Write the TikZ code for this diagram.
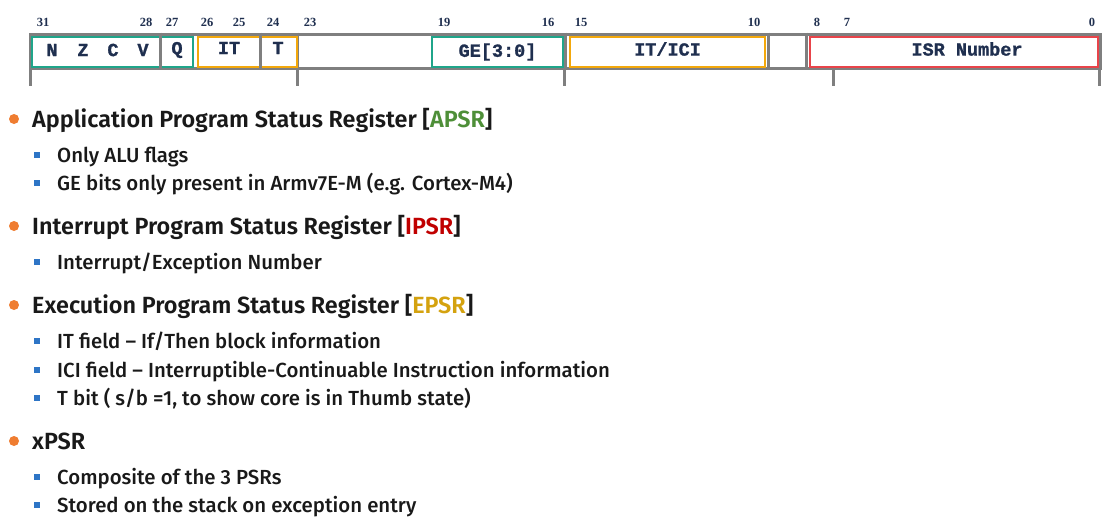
\documentclass[tikz,border=0pt]{standalone}
\usepackage{fontspec}
\setmainfont{Fira Sans}[UprightFont=* Medium]
\newfontfamily\headfont{Fira Sans}[UprightFont=* SemiBold]
\newfontfamily\regfont{Liberation Mono}[FakeBold=1.2]
\newfontfamily\bitfont{Liberation Serif}
\usepackage{tikz}
\usetikzlibrary{positioning,calc}
\definecolor{barGrey}{HTML}{7F7F7F}
\definecolor{regNavy}{HTML}{1F2F4F}
\definecolor{tealFrame}{HTML}{1FA58A}
\definecolor{amberFrame}{HTML}{F3A80C}
\definecolor{redFrame}{HTML}{E8444A}
\definecolor{apsrGreen}{HTML}{4E8F38}
\definecolor{ipsrRed}{HTML}{C00000}
\definecolor{epsrGold}{HTML}{D4A20F}
\definecolor{dotOrange}{HTML}{EF7D31}
\definecolor{sqBlue}{HTML}{2E75C6}

\begin{document}
\begin{tikzpicture}[x=1pt,y=-1pt,
  bar/.style={draw=barGrey,line width=3pt},
  divider/.style={draw=barGrey,line width=3pt},
  frame/.style={draw,fill=white,line width=2.4pt,minimum height=30pt,inner sep=0},
  regtxt/.style={font=\regfont\bfseries\fontsize{18.5}{20}\selectfont,text=regNavy,inner sep=0},
  bitnum/.style={font=\bitfont\bfseries\fontsize{12.5}{13}\selectfont,text=regNavy,inner sep=0},
  head/.style={anchor=base west,inner sep=0,text=black!90,font=\headfont\fontsize{23.4}{26}\selectfont},
  item/.style={anchor=base west,inner sep=0,text=black!90,font=\fontsize{20.4}{22}\selectfont},
  dot/.style={circle,fill=dotOrange,minimum size=10pt,inner sep=0},
  sq/.style={fill=sqBlue,minimum size=6pt,inner sep=0}]

  \useasboundingbox (0,0) rectangle (1110,517);

  % ==========================================
  % xPSR REGISTER BAR
  % ==========================================
  \node[bar,minimum width=1070pt,minimum height=34pt,inner sep=0] (psr) at (565,51) {};
  \foreach \x in {160,260,297,565,768,806}
    \draw[divider] (psr.north -| \x,0) -- (psr.south -| \x,0);
  % byte ticks below the bar
  \foreach \x in {30,297,564,833,1099}
    \draw[divider] (psr.south -| \x,0) -- ++(0,16);

  % coloured field frames
  \node[frame,draw=tealFrame,minimum width=161pt] (apsrF) at (112.5,52) {};
  \node[frame,draw=amberFrame,minimum width=99pt] (itF) at (247.5,52) {};
  \node[frame,draw=tealFrame,minimum width=131pt] (geF) at (497.5,52) {};
  \node[frame,draw=amberFrame,minimum width=195pt] (iciF) at (667.5,52) {};
  \node[frame,draw=redFrame,minimum width=288pt] (isrF) at (954,52) {};
  \node[frame,draw=none,minimum width=33pt,minimum height=31pt] (gapF) at (786.5,51) {};
  % inner dividers
  \draw[divider] (apsrF.north -| 160,0) -- (apsrF.south -| 160,0);
  \draw[divider] (itF.north -| 260,0) -- (itF.south -| 260,0);

  % field names
  \foreach \l/\x in {N/52,Z/83,C/113,V/143}
    \node[regtxt] (flag\l) at (\x,50) {\l};
  \node[regtxt] (q) at (177,50) {Q};
  \node[regtxt] (it) at (229,48) {IT};
  \node[regtxt] (t) at (278,48) {T};
  \node[regtxt] (ge) at (geF) {GE[3:0]};
  \node[regtxt] (itici) at ([yshift=3pt]iciF) {IT/ICI};
  \node[regtxt] (isr) at ([xshift=13pt,yshift=3pt]isrF) {ISR Number};

  % bit numbers
  \foreach \n/\x in {31/43,28/146,27/172,26/207,25/239,24/273,23/310,19/444,16/548,15/581,10/754,8/817,7/847,0/1092}
    \node[bitnum] (bit\n) at (\x,22) {\n};

  % ==========================================
  % DESCRIPTION LIST
  % ==========================================
  \node[head] (apsr) at (32,127) {Application Program Status Register [\textcolor{apsrGreen}{APSR}]};
  \node[item] (apsr1) at (57,162) {Only ALU flags};
  \node[item] (apsr2) at (57,190) {GE bits only present in Armv7E-M (e.g. Cortex-M4)};

  \node[head] (ipsr) at (32,234) {Interrupt Program Status Register [\textcolor{ipsrRed}{IPSR}]};
  \node[item] (ipsr1) at (57,269) {Interrupt/Exception Number};

  \node[head] (epsr) at (32,313) {Execution Program Status Register [\textcolor{epsrGold}{EPSR}]};
  \node[item] (epsr1) at (57,348) {IT field – If/Then block information};
  \node[item] (epsr2) at (57,377) {ICI field – Interruptible-Continuable Instruction information};
  \node[item] (epsr3) at (57,405) {T bit ( s/b =1, to show core is in Thumb state)};

  \node[head] (xpsr) at (32,449) {xPSR};
  \node[item] (xpsr1) at (57,484) {Composite of the 3 PSRs};
  \node[item] (xpsr2) at (57,512) {Stored on the stack on exception entry};

  % bullets
  \foreach \h in {apsr,ipsr,epsr,xpsr}
    \node[dot] at ([xshift=-18pt,yshift=8pt]\h.base west) {};
  \foreach \i in {apsr1,apsr2,ipsr1,epsr1,epsr2,epsr3,xpsr1,xpsr2}
    \node[sq] at ([xshift=-20pt,yshift=7pt]\i.base west) {};

\end{tikzpicture}
\end{document}
